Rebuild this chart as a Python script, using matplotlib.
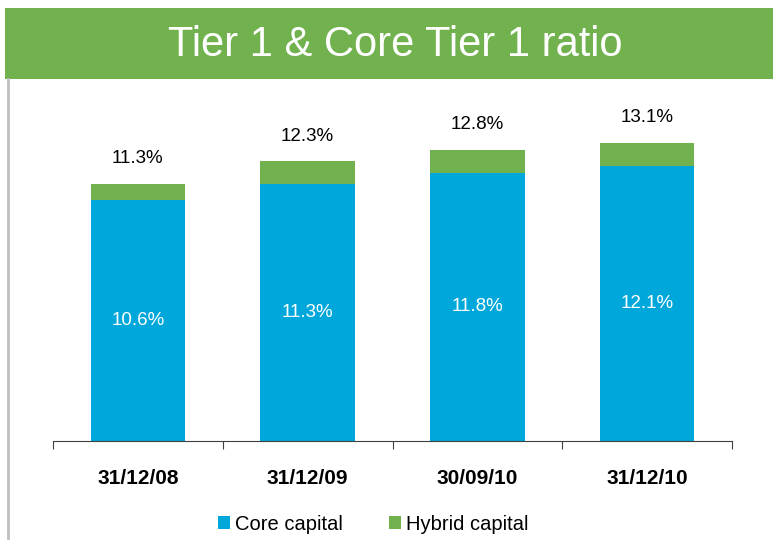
import numpy as np
import matplotlib.pyplot as plt
from matplotlib.patches import Rectangle
from matplotlib.lines import Line2D

plt.rcParams['font.family'] = ['Liberation Sans', 'DejaVu Sans']

dates = ['31/12/08', '31/12/09', '30/09/10', '31/12/10']
core = [10.6, 11.3, 11.8, 12.1]
tier1 = [11.3, 12.3, 12.8, 13.1]
hybrid = [t - c for t, c in zip(tier1, core)]

blue = '#00A7DA'
green = '#71B24F'

W, H = 773, 540
fig = plt.figure(figsize=(W / 100, H / 100), dpi=100)

# green title banner and grey left rule
fig.patches.append(Rectangle((5 / W, 1 - 79 / H), 1, 71 / H, transform=fig.transFigure,
                             facecolor=green, edgecolor='none', zorder=0))
fig.lines.append(Line2D([8 / W, 8 / W], [0, 1 - 79 / H], transform=fig.transFigure,
                        color='#BFBFBF', lw=2))
fig.text(395 / W, 1 - 45 / H, 'Tier 1 & Core Tier 1 ratio', color='white',
         fontsize=30, ha='center', va='center')

ax = fig.add_axes([53 / W, 99 / H, 679 / W, 364 / H])
x = np.arange(len(dates))
ax.bar(x, core, width=0.556, color=blue, label='Core capital')
ax.bar(x, hybrid, width=0.556, bottom=core, color=green, label='Hybrid capital')

for i in range(len(dates)):
    ax.text(x[i], core[i] / 2, f'{core[i]:.1f}%', color='white', fontsize=13.5,
            ha='center', va='center')
    ax.annotate(f'{tier1[i]:.1f}%', (x[i], tier1[i]), xytext=(0, 18),
                textcoords='offset points', ha='center', va='center', fontsize=13.5)

ax.set_xlim(-0.5, 3.5)
ax.set_ylim(0, 16)
for s in ['top', 'right', 'left']:
    ax.spines[s].set_visible(False)
ax.spines['bottom'].set_color('#404040')
ax.set_yticks([])
ax.set_xticks(np.arange(-0.5, 4, 1))
ax.set_xticklabels([])
ax.tick_params(axis='x', length=6, color='#404040')
ax.set_xticks(x, minor=True)
ax.set_xticklabels(dates, minor=True, fontsize=15, fontweight='bold')
ax.tick_params(axis='x', which='minor', length=0, pad=20)

fig.legend(loc='center', bbox_to_anchor=(373 / W, 1 - 524 / H), ncol=2, frameon=False,
           fontsize=14.5, handlelength=0.6, handleheight=0.6, handletextpad=0.25,
           columnspacing=2.3)

fig.savefig('out.png', dpi=100)
